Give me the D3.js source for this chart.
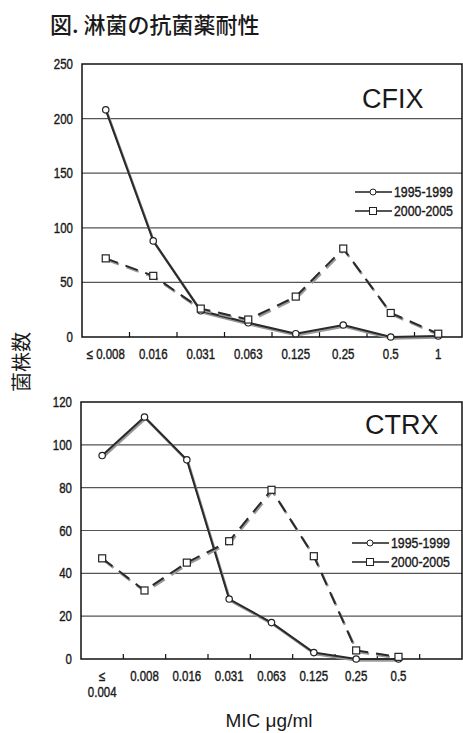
<!DOCTYPE html>
<html>
<head>
<meta charset="utf-8">
<script src="https://cdn.jsdelivr.net/npm/d3@7"></script>
<style>
  body { margin: 0; background: #fff; }
  svg { display: block; }
  .num { font-family: "Liberation Sans", Arial, sans-serif; font-size: 14px; fill: #1a1a1a; stroke: #1a1a1a; stroke-width: 0.4px; }
</style>
</head>
<body>
<div id="chart"></div>
<script>
// categories and values
var cfixCats = ["≤ 0.008", "0.016", "0.031", "0.063", "0.125", "0.25", "0.5", "1"];
var cfix9599 = [208, 88, 24, 13, 3, 11, 0, 1];
var cfix0005 = [72, 56, 26, 16, 37, 81, 22, 3];
var cfixTicks = [0, 50, 100, 150, 200, 250];

var ctrxCats = ["≤\n0.004", "0.008", "0.016", "0.031", "0.063", "0.125", "0.25", "0.5", ""];
var ctrx9599 = [95, 113, 93, 28, 17, 3, 0, 0];
var ctrx0005 = [47, 32, 45, 55, 79, 48, 4, 1];
var ctrxTicks = [0, 20, 40, 60, 80, 100, 120];

var seriesNames = ["1995-1999", "2000-2005"];

var svgWidth = 463;
var svgHeight = 733;
var narrow = 0.82; // figure numbers use a condensed face

var svg = d3.select("#chart")
  .append("svg")
  .attr("width", svgWidth)
  .attr("height", svgHeight);

// title
svg.append("text")
  .attr("x", 50)
  .attr("y", 33)
  .style("font-family", "'Noto Sans CJK JP', sans-serif")
  .style("font-size", "22px")
  .style("font-weight", "500")
  .style("fill", "#1a1a1a")
  .text("図. 淋菌の抗菌薬耐性");

// y axis title
svg.append("text")
  .attr("transform", "translate(29, 362) rotate(-90)")
  .attr("text-anchor", "middle")
  .style("font-family", "'Noto Sans CJK JP', sans-serif")
  .style("font-size", "20px")
  .style("fill", "#1a1a1a")
  .text("菌株数");

// x axis title
svg.append("text")
  .attr("x", 269)
  .attr("y", 727)
  .attr("text-anchor", "middle")
  .style("font-family", "'Liberation Sans', Arial, sans-serif")
  .style("font-size", "19px")
  .style("fill", "#1a1a1a")
  .text("MIC μg/ml");

function drawPanel(p) {
  var xScale = d3.scaleBand()
    .domain(d3.range(p.cats.length))
    .range([p.left, p.right]);

  var yScale = d3.scaleLinear()
    .domain([0, d3.max(p.ticks)])
    .range([p.bottom, p.top]);

  var cx = (d, i) => xScale(i) + xScale.bandwidth() / 2;

  var g = svg.append("g");

  // gridlines
  g.selectAll(".grid")
    .data(p.ticks.slice(1, -1))
    .enter()
    .append("line")
    .attr("x1", p.left)
    .attr("x2", p.right)
    .attr("y1", d => yScale(d))
    .attr("y2", d => yScale(d))
    .attr("stroke", "#555")
    .attr("stroke-width", 1.2);

  // plot frame
  g.append("rect")
    .attr("x", p.left)
    .attr("y", p.top)
    .attr("width", p.right - p.left)
    .attr("height", p.bottom - p.top)
    .attr("fill", "none")
    .attr("stroke", "#111")
    .attr("stroke-width", 1.5);

  // y tick labels
  g.selectAll(".ylab")
    .data(p.ticks)
    .enter()
    .append("text")
    .attr("class", "num")
    .attr("transform", d => `translate(${p.left - 9}, ${yScale(d) + 5}) scale(${narrow}, 1)`)
    .attr("text-anchor", "end")
    .text(d => d);

  // x ticks between categories, pointing up
  g.selectAll(".xtick")
    .data(d3.range(1, p.cats.length))
    .enter()
    .append("line")
    .attr("x1", d => xScale(d))
    .attr("x2", d => xScale(d))
    .attr("y1", p.bottom)
    .attr("y2", p.bottom - 5)
    .attr("stroke", "#111")
    .attr("stroke-width", 1.2);

  // x labels
  var xl = g.selectAll(".xlab")
    .data(p.cats)
    .enter()
    .append("text")
    .attr("class", "num")
    .attr("text-anchor", "middle")
    .attr("transform", (d, i) => `translate(${cx(d, i)}, ${p.bottom + 22}) scale(${narrow}, 1)`);

  xl.selectAll("tspan")
    .data(d => d.split("\n"))
    .enter()
    .append("tspan")
    .attr("x", 0)
    .attr("dy", (d, j) => j === 0 ? 0 : 16)
    .text(d => d);

  var line = d3.line()
    .x(cx)
    .y(d => yScale(d));

  var sets = [
    { vals: p.s1, dash: null, shape: "circle" },
    { vals: p.s2, dash: "13,8", shape: "square" }
  ];

  sets.forEach(function(s) {
    // faint scan shadow under the line
    g.append("path")
      .datum(s.vals)
      .attr("d", line)
      .attr("transform", "translate(1,1.5)")
      .attr("fill", "none")
      .attr("stroke", "#999")
      .attr("stroke-width", 2.5)
      .attr("stroke-dasharray", s.dash);

    g.append("path")
      .datum(s.vals)
      .attr("d", line)
      .attr("fill", "none")
      .attr("stroke", "#2a2a2a")
      .attr("stroke-width", 2)
      .attr("stroke-dasharray", s.dash);
  });

  sets.forEach(function(s) {
    if (s.shape === "circle") {
      g.selectAll(".c")
        .data(s.vals)
        .enter()
        .append("circle")
        .attr("cx", cx)
        .attr("cy", d => yScale(d))
        .attr("r", 3.2)
        .attr("fill", "#fff")
        .attr("stroke", "#222")
        .attr("stroke-width", 1.2);
    } else {
      g.selectAll(".sq")
        .data(s.vals)
        .enter()
        .append("rect")
        .attr("x", (d, i) => cx(d, i) - 3.5)
        .attr("y", d => yScale(d) - 3.5)
        .attr("width", 7)
        .attr("height", 7)
        .attr("fill", "#fff")
        .attr("stroke", "#222")
        .attr("stroke-width", 1.2);
    }
  });

  // drug name
  g.append("text")
    .attr("x", p.nameX)
    .attr("y", p.nameY)
    .style("font-family", "'Liberation Sans', Arial, sans-serif")
    .style("font-size", "27px")
    .style("fill", "#1a1a1a")
    .text(p.name);

  // legend
  var leg = g.selectAll(".leg")
    .data(seriesNames)
    .enter()
    .append("g")
    .attr("transform", (d, i) => `translate(${p.legX}, ${p.legY + i * 19})`);

  leg.append("line")
    .attr("x1", 0)
    .attr("x2", 37)
    .attr("stroke", "#555")
    .attr("stroke-width", 2);

  leg.filter((d, i) => i === 0)
    .append("circle")
    .attr("cx", 18)
    .attr("r", 3)
    .attr("fill", "#fff")
    .attr("stroke", "#222");

  leg.filter((d, i) => i === 1)
    .append("rect")
    .attr("x", 14.5)
    .attr("y", -3.5)
    .attr("width", 7)
    .attr("height", 7)
    .attr("fill", "#fff")
    .attr("stroke", "#222");

  leg.append("text")
    .attr("class", "num")
    .attr("transform", "translate(39, 5) scale(0.88, 1)")
    .text(d => d);
}

drawPanel({
  cats: cfixCats, s1: cfix9599, s2: cfix0005, ticks: cfixTicks,
  left: 82, right: 462, top: 64, bottom: 337,
  name: "CFIX", nameX: 362, nameY: 108,
  legX: 355, legY: 192
});

drawPanel({
  cats: ctrxCats, s1: ctrx9599, s2: ctrx0005, ticks: ctrxTicks,
  left: 81, right: 462, top: 402, bottom: 659,
  name: "CTRX", nameX: 365, nameY: 434,
  legX: 352, legY: 543
});
</script>
</body>
</html>
